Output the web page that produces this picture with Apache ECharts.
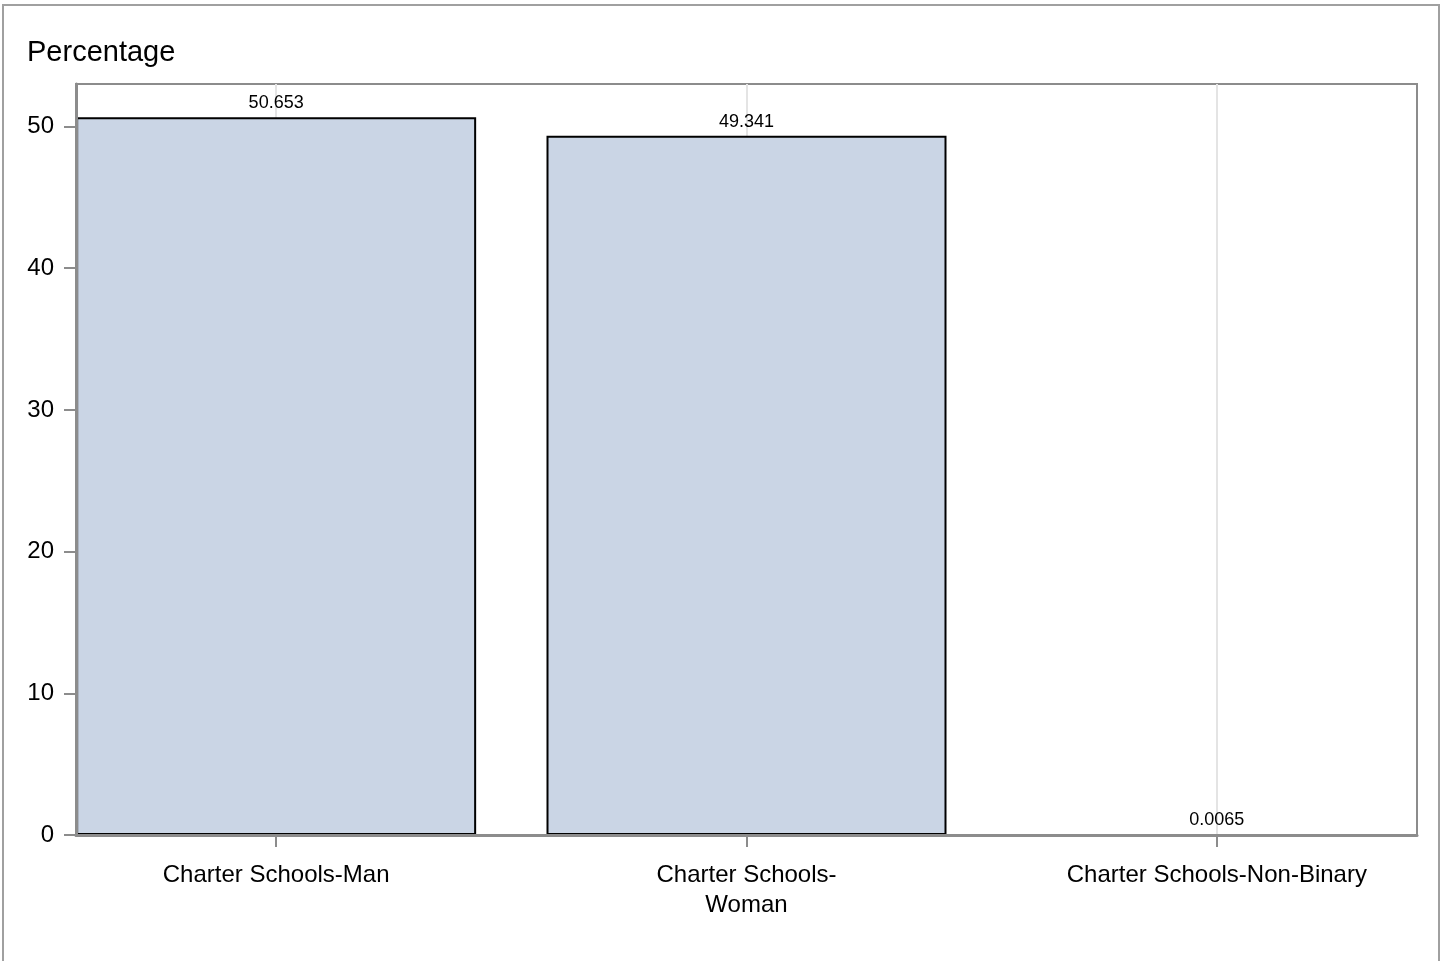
<!DOCTYPE html>
<html>
<head>
<meta charset="utf-8">
<script src="https://cdn.jsdelivr.net/npm/echarts@6/dist/echarts.min.js"></script>
<style>
html,body{margin:0;padding:0;background:#fff;}
#chart{width:1442px;height:961px;}
</style>
</head>
<body>
<div id="chart"></div>
<script>
// Data
var categories = ["Charter Schools-Man", "Charter Schools-Woman", "Charter Schools-Non-Binary"];
var tickLabels = ["Charter Schools-Man", "Charter Schools-\nWoman", "Charter Schools-Non-Binary"];
var percentages = [50.653, 49.341, 0.0065];
var percentLabels = ["50.653", "49.341", "0.0065"];
var yTicks = [0, 10, 20, 30, 40, 50];

var positions = categories.map(function (c, i) { return i; });
var barData = percentages.map(function (v, i) { return [i, v]; });

var FONT = "'Liberation Sans', Arial, sans-serif";
var chart = echarts.init(document.getElementById('chart'));
chart.setOption({
  animation: false,
  backgroundColor: '#ffffff',
  title: {
    text: 'Percentage',
    left: 22, top: 33,
    textStyle: { fontFamily: FONT, fontSize: 29, fontWeight: 'normal', color: '#000' }
  },
  graphic: [{
    type: 'rect',
    shape: { x: 3, y: 5, width: 1436, height: 990 },
    style: { fill: 'none', stroke: '#a0a0a0', lineWidth: 2 },
    silent: true
  }],
  grid: {
    left: 76, right: 25, top: 84, bottom: 126,
    show: true, borderColor: '#8c8c8c', borderWidth: 2, backgroundColor: '#fff'
  },
  xAxis: {
    type: 'value',
    min: -200 / 470, max: 2 + 200 / 470,
    z: 10,
    axisLine: { show: true, onZero: false, lineStyle: { color: '#8c8c8c', width: 3 } },
    axisTick: { show: true, customValues: positions, length: 12, lineStyle: { color: '#8c8c8c', width: 2 } },
    axisLabel: {
      customValues: positions,
      margin: 25,
      fontFamily: FONT, fontSize: 24, color: '#000', lineHeight: 30,
      formatter: function (v) { return tickLabels[Math.round(v)]; }
    },
    splitLine: { show: false }
  },
  yAxis: {
    type: 'value',
    min: 0, max: 53, interval: 10,
    z: 10,
    axisLine: { show: true, onZero: false, lineStyle: { color: '#8c8c8c', width: 3 } },
    axisTick: { show: true, customValues: yTicks, length: 12, lineStyle: { color: '#8c8c8c', width: 2 } },
    axisLabel: {
      customValues: yTicks,
      margin: 22, fontFamily: FONT, fontSize: 24, color: '#000',
      formatter: function (v) { return String(v); }
    },
    splitLine: { show: false }
  },
  series: [
    {
      type: 'line',
      data: [],
      z: 1,
      silent: true,
      markLine: {
        z: 1,
        silent: true,
        symbol: ['none', 'none'],
        label: { show: false },
        lineStyle: { color: '#e4e4e4', width: 2, type: 'solid' },
        data: positions.map(function (p) { return { xAxis: p }; })
      }
    },
    {
      type: 'bar',
      z: 3,
      data: barData,
      barWidth: 400,
      itemStyle: { color: '#cad5e5', borderColor: '#000', borderWidth: 2 },
      label: {
        show: true, position: 'top', distance: 5,
        fontFamily: FONT, fontSize: 18, color: '#000',
        formatter: function (p) { return percentLabels[p.dataIndex]; }
      }
    }
  ]
});
</script>
</body>
</html>
